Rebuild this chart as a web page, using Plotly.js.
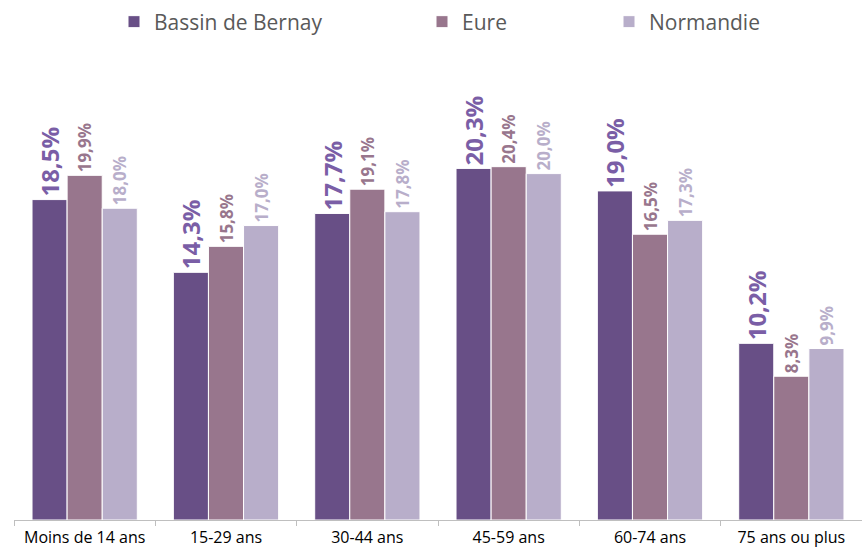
<!DOCTYPE html>
<html><head><meta charset="utf-8">
<script src="https://cdn.plot.ly/plotly-3.0.1.min.js"></script>
<style>html,body{margin:0;padding:0;background:#fff}#chart{width:862px;height:551px}</style>
</head><body><div id="chart"></div>
<script>
const categories = ["Moins de 14 ans", "15-29 ans", "30-44 ans", "45-59 ans", "60-74 ans", "75 ans ou plus"];
const seriesNames = ["Bassin de Bernay", "Eure", "Normandie"];
const bernay = [18.5, 14.3, 17.7, 20.3, 19.0, 10.2];
const eure = [19.9, 15.8, 19.1, 20.4, 16.5, 8.3];
const normandie = [18.0, 17.0, 17.8, 20.0, 17.3, 9.9];

const FONT = "'Open Sans', sans-serif";
const fmt = v => v.toFixed(1).replace('.', ',') + '%';
const barColors = ["#684F86", "#98768D", "#B8AECA"];
const labelColors = ["#7A5EA6", "#98768D", "#B8AECA"];
const labelSizes = [24, 17, 17];
const legendNames = ["legend", "legend2", "legend3"];
const series = [bernay, eure, normandie];

const data = series.map((vals, i) => ({
  type: 'bar',
  name: seriesNames[i],
  x: categories,
  y: vals,
  text: vals.map(fmt),
  textposition: 'outside',
  textangle: -90,
  constraintext: 'none',
  cliponaxis: false,
  outsidetextfont: {family: FONT, size: labelSizes[i], color: labelColors[i], weight: 'bold'},
  marker: {color: barColors[i], line: {color: '#ffffff', width: 1}},
  hoverinfo: 'skip',
  legend: legendNames[i]
}));

const legendBase = {
  orientation: 'h', xref: 'container', yref: 'container', yanchor: 'middle', xanchor: 'left',
  y: 1 - 22 / 551, font: {family: FONT, size: 21, color: '#595959'}, bgcolor: 'rgba(0,0,0,0)'
};

const layout = {
  width: 862, height: 551,
  margin: {l: 14, r: 0, t: 87, b: 31},
  paper_bgcolor: '#ffffff', plot_bgcolor: '#ffffff',
  barmode: 'group', bargap: 0.255, bargroupgap: 0,
  showlegend: true,
  legend: Object.assign({}, legendBase, {x: 114 / 862}),
  legend2: Object.assign({}, legendBase, {x: 422 / 862}),
  legend3: Object.assign({}, legendBase, {x: 609 / 862}),
  xaxis: {
    type: 'category', range: [-0.5, 5.5],
    showline: true, linecolor: '#BFBFBF', linewidth: 1,
    ticks: 'outside', tickson: 'boundaries', ticklen: 5, tickcolor: '#BFBFBF',
    ticklabelstandoff: 3,
    tickfont: {family: FONT, size: 16, color: '#000000'},
    showgrid: false, zeroline: false, fixedrange: true
  },
  yaxis: {
    range: [0, 25], visible: false, showgrid: false, zeroline: false, fixedrange: true
  }
};

Plotly.newPlot('chart', data, layout, {displayModeBar: false, staticPlot: true});
</script>
</body></html>
